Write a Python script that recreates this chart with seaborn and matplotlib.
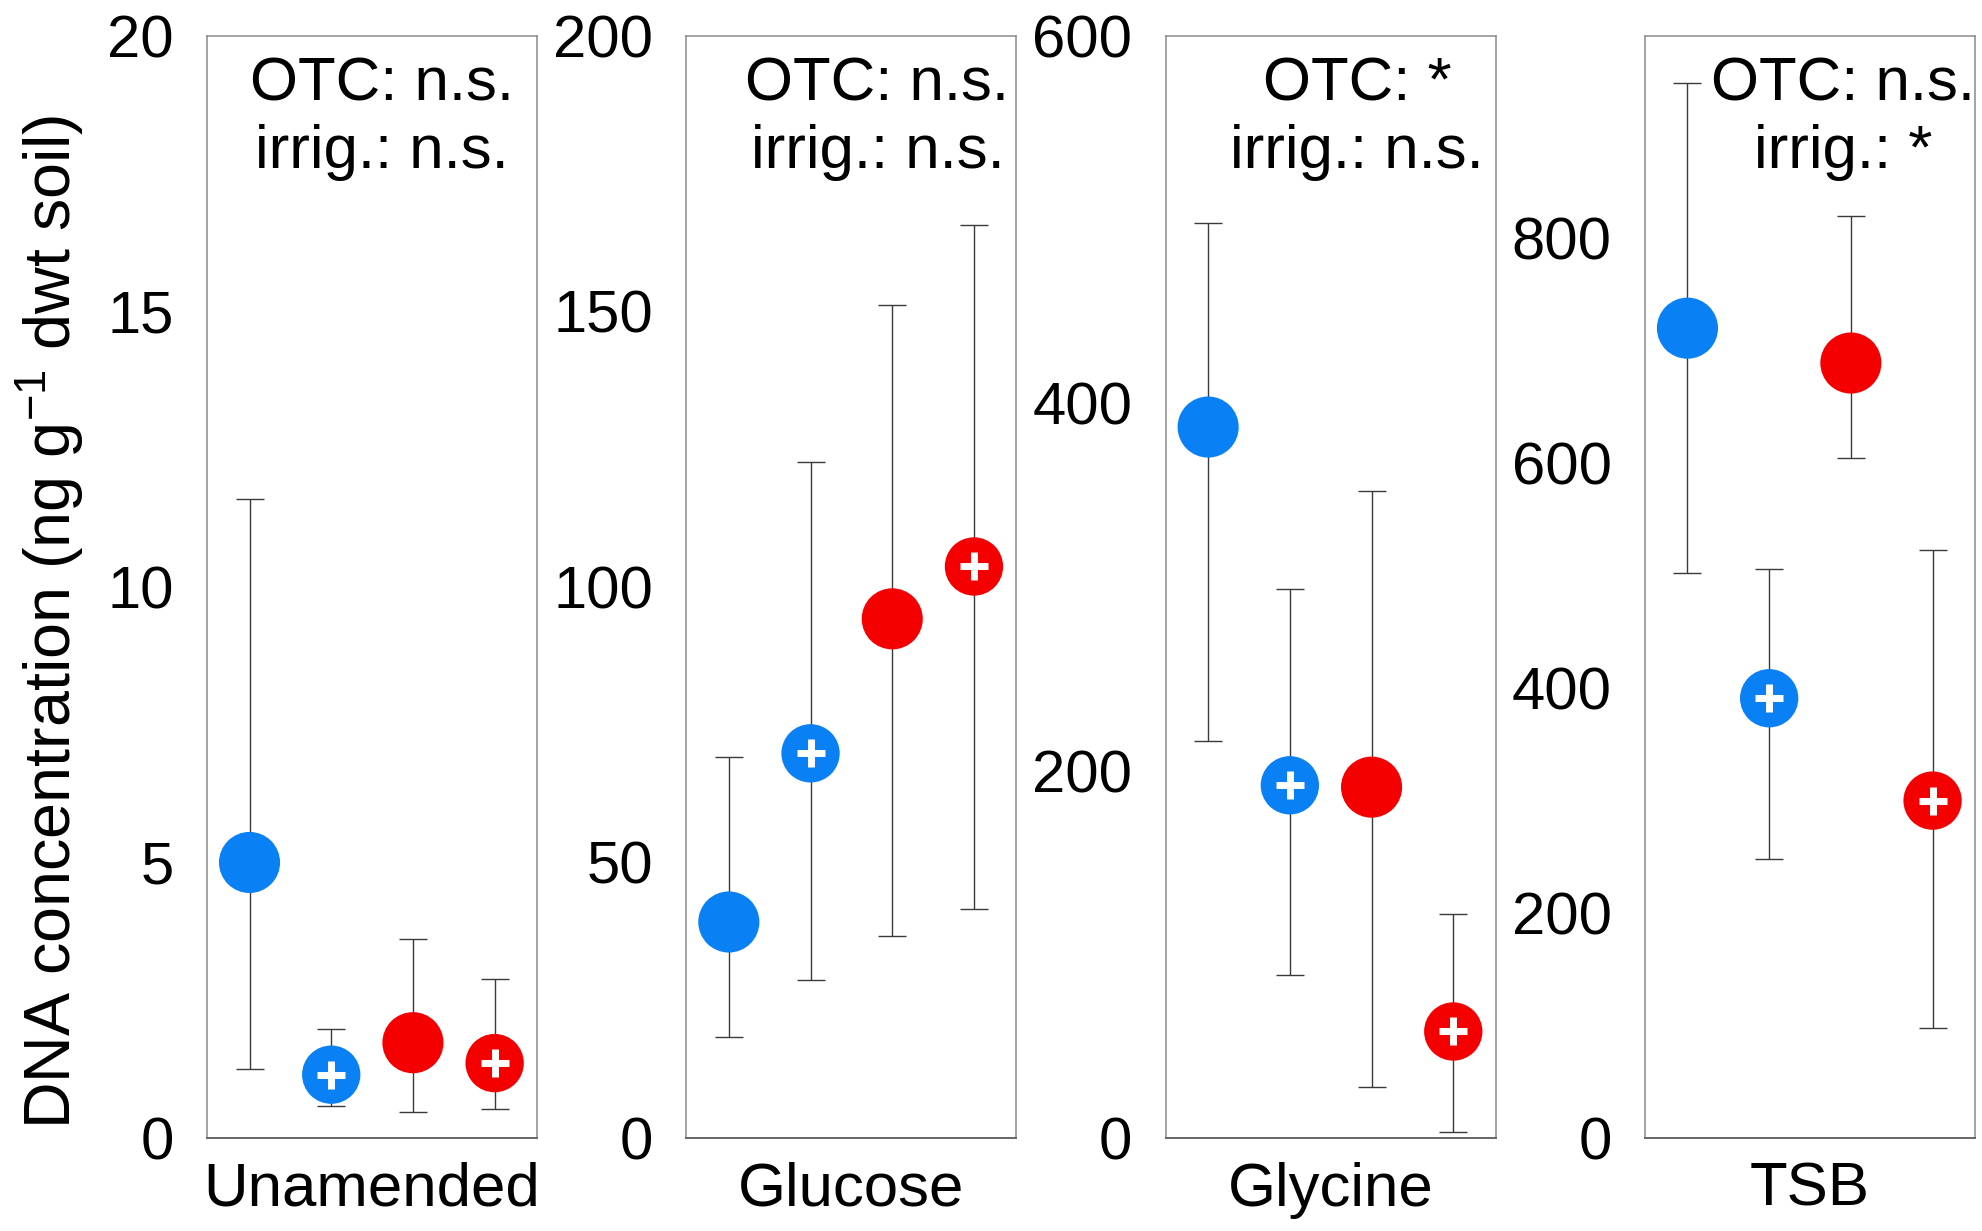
import numpy as np
import pandas as pd
import seaborn as sns
import matplotlib.pyplot as plt

# substrates (one panel each) and the four treatments inside every panel
amendments = ['Unamended', 'Glucose', 'Glycine', 'TSB']
treatments = ['ambient', 'irrigated', 'OTC', 'OTC + irrigated']

# means and lower / upper ends of the error bars
unamended_mean = [5.0, 1.15, 1.73, 1.36]
unamended_lo = [1.25, 0.58, 0.48, 0.53]
unamended_hi = [11.6, 1.98, 3.62, 2.88]

glucose_mean = [39.2, 69.8, 94.2, 103.7]
glucose_lo = [18.4, 28.6, 36.6, 41.5]
glucose_hi = [69.1, 122.6, 151.2, 165.7]

glycine_mean = [387, 192, 191, 58]
glycine_lo = [216, 89, 28, 3.5]
glycine_hi = [498, 299, 352, 122]

tsb_mean = [720, 391, 689, 300]
tsb_lo = [502, 248, 605, 98]
tsb_hi = [938, 506, 820, 523]

# statistics text per panel
otc_sig = ['n.s.', 'n.s.', '*', 'n.s.']
irrig_sig = ['n.s.', 'n.s.', 'n.s.', '*']

# axis settings per panel
y_max = [20, 200, 600, 980]
y_ticks = [[0, 5, 10, 15, 20], [0, 50, 100, 150, 200], [0, 200, 400, 600], [0, 200, 400, 600, 800]]
text_x = [0.531, 0.579, 0.580, 0.600]

means = [unamended_mean, glucose_mean, glycine_mean, tsb_mean]
lows = [unamended_lo, glucose_lo, glycine_lo, tsb_lo]
highs = [unamended_hi, glucose_hi, glycine_hi, tsb_hi]

rows = []
for a, name in enumerate(amendments):
    for t, treat in enumerate(treatments):
        rows.append({'amendment': name, 'treatment': treat, 'pos': t,
                     'mean': means[a][t], 'lo': lows[a][t], 'hi': highs[a][t],
                     'irrigated': 'irrigated' in treat})
df = pd.DataFrame(rows)

blue = '#0A80F5'
red = '#F50000'
palette = {'ambient': blue, 'irrigated': blue, 'OTC': red, 'OTC + irrigated': red}
sizes = {'ambient': 44 ** 2, 'irrigated': 42 ** 2, 'OTC': 44 ** 2, 'OTC + irrigated': 42 ** 2}

sns.set_style('white')
plt.rcParams['font.family'] = ['Liberation Sans', 'DejaVu Sans']
plt.rcParams['mathtext.fontset'] = 'custom'
plt.rcParams['mathtext.rm'] = 'Liberation Sans'
plt.rcParams['mathtext.default'] = 'regular'
plt.rcParams['text.color'] = 'black'
plt.rcParams['axes.labelcolor'] = 'black'
plt.rcParams['ytick.labelcolor'] = 'black'

fig, axes = plt.subplots(1, 4, figsize=(19.83, 12.31), dpi=100)
fig.subplots_adjust(left=0.1044, right=0.996, top=0.971, bottom=0.0755, wspace=0.452)

frame = '#8a8a8a'
for i, ax in enumerate(axes):
    sub = df[df['amendment'] == amendments[i]]
    ax.errorbar(sub['pos'], sub['mean'],
                yerr=[sub['mean'] - sub['lo'], sub['hi'] - sub['mean']],
                fmt='none', ecolor='#3a3a3a', elinewidth=1, capsize=10, capthick=1, zorder=1)
    sns.scatterplot(data=sub, x='pos', y='mean', hue='treatment', palette=palette,
                    size='treatment', sizes=sizes, linewidth=0, legend=False, ax=ax, zorder=3)
    plus = sub[sub['irrigated']]
    sns.scatterplot(data=plus, x='pos', y='mean', marker='+', s=20 ** 2, color='white',
                    linewidth=5, legend=False, ax=ax, zorder=4)

    ax.set_xlim(-0.52, 3.52)
    ax.set_ylim(0, y_max[i])
    ax.set_yticks(y_ticks[i])
    ax.set_xticks([])
    ax.tick_params(axis='y', direction='in', length=13, width=1, color=frame,
                   labelsize=43, labelcolor='black', pad=24)
    for side in ['top', 'left', 'right']:
        ax.spines[side].set_color(frame)
        ax.spines[side].set_linewidth(1.1)
    ax.spines['bottom'].set_color('#666666')
    ax.spines['bottom'].set_linewidth(1.4)
    ax.set_xlabel(amendments[i], fontsize=44.5, labelpad=17, color='black')
    ax.set_ylabel('')
    ax.text(text_x[i], 0.981, 'OTC: ' + otc_sig[i] + '\nirrig.: ' + irrig_sig[i],
            transform=ax.transAxes, ha='center', va='top', multialignment='center',
            fontsize=44.5, linespacing=1.24, color='black')

fig.text(0.025, 0.495, r'DNA concentration (ng g$^{-1}$ dwt soil)', rotation=90,
         ha='center', va='center', fontsize=46.5, color='black')

plt.savefig('out.png', dpi=100)
